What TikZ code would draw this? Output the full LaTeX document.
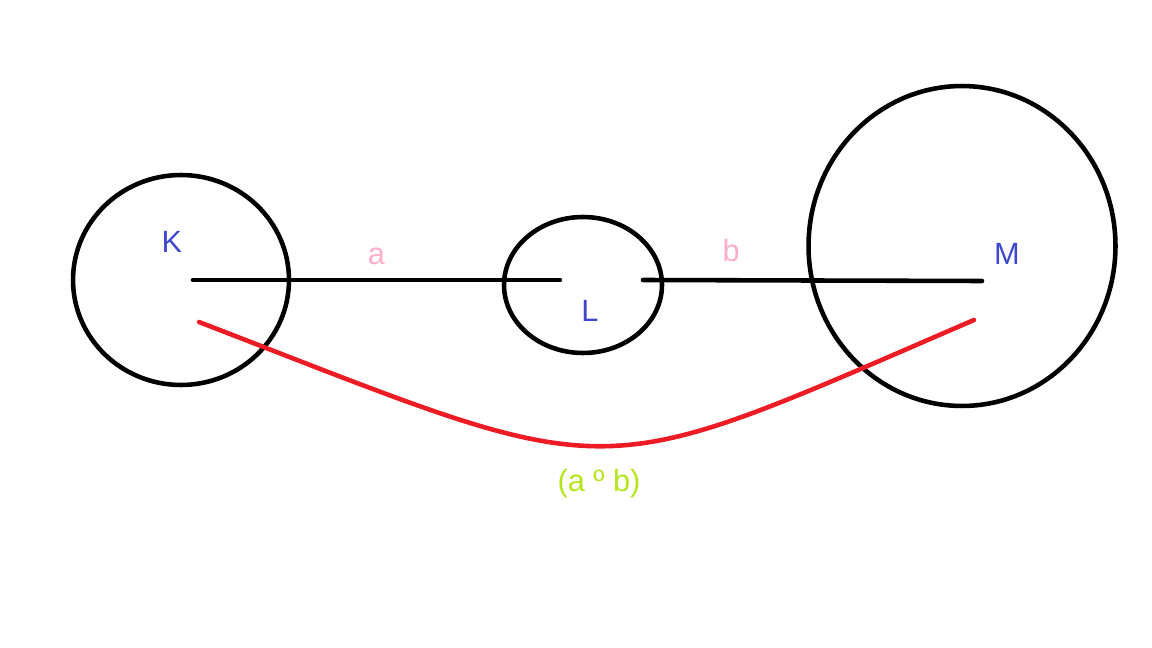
\documentclass[tikz,border=0pt]{standalone}
\usepackage{fontspec}
\setmainfont{Liberation Sans}
\usetikzlibrary{shapes.geometric}
\definecolor{paintblue}{RGB}{63,72,204}
\definecolor{paintpink}{RGB}{255,174,201}
\definecolor{paintred}{RGB}{237,28,36}
\definecolor{paintlime}{RGB}{181,230,29}

\begin{document}
\begin{tikzpicture}[
            x=0.02cm, y=-0.02cm,
            ring_style/.style={ellipse, draw, line width=2.6pt, inner sep=0pt},
            point_style/.style={text=paintblue, font=\fontsize{17.5}{21}\selectfont},
            name_style/.style={text=paintpink, font=\fontsize{17.5}{21}\selectfont},
            comp_style/.style={text=paintlime, font=\fontsize{17.5}{21}\selectfont},
            line/.style={line width=2.6pt, line cap=round},
            curve/.style={draw=paintred, line width=2.6pt, line cap=round}
        ]
        \useasboundingbox (0,0) rectangle (1152,648);

        % Kreise
        \node (kring) [ring_style, minimum width=4.32cm, minimum height=4.2cm] at (181,280) {};
        \node (lring) [ring_style, minimum width=3.16cm, minimum height=2.72cm] at (583,285) {};
        \node (mring) [ring_style, minimum width=6.14cm, minimum height=6.4cm] at (962,246) {};

        % Punkte
        \node (klabel) [point_style] at (172,242) {K};
        \node (llabel) [point_style] at (590,311) {L};
        \node (mlabel) [point_style] at (1007,254) {M};

        % Endpunkte
        \coordinate (astart) at (193,280);
        \coordinate (aend) at (560,280);
        \coordinate (bstart) at (643,280);
        \coordinate (bend) at (982,281);
        \coordinate (cstart) at (199,322);
        \coordinate (cend) at (974,320);

        % Verbindungen
        \draw [line] (astart) -- node[name_style, above=4pt] (alabel) {a} (aend);
        \draw [line] (bstart) -- node[name_style, pos=0.26, above=6pt] (blabel) {b} (bend);
        \draw [curve] (cstart) .. controls (627,487) and (582,489) .. (cend);

        \node (complabel) [comp_style] at (599,484) {(a º b)};

    \end{tikzpicture}
\end{document}
